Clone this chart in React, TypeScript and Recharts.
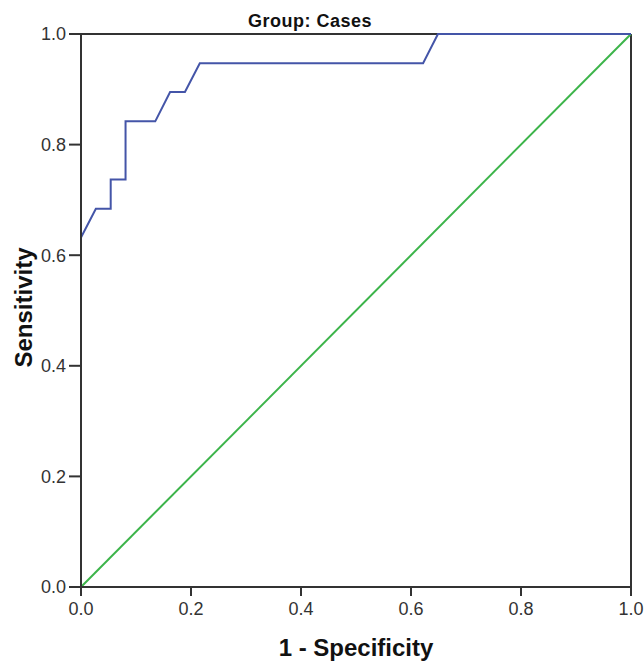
import React from "react";
import { LineChart, Line, XAxis, YAxis, ReferenceLine, Label } from "recharts";

const rocFpr = [0, 0, 0.027, 0.054, 0.054, 0.081, 0.081, 0.135, 0.162, 0.189, 0.216, 0.622, 0.649, 1.0];
const rocTpr = [0, 0.632, 0.684, 0.684, 0.737, 0.737, 0.842, 0.842, 0.895, 0.895, 0.947, 0.947, 1.0, 1.0];
const refX = [0, 1];
const refY = [0, 1];
const ticks = [0, 0.2, 0.4, 0.6, 0.8, 1.0];

const rocData = rocFpr.map((x, i) => ({ x, y: rocTpr[i] }));
const refData = refX.map((x, i) => ({ x, y: refY[i] }));

const AXIS = "#333";
const FONT = "Liberation Sans, Arial, sans-serif";

export default function App() {
  return (
    <div style={{ position: "absolute", left: 0, top: 0, background: "#fff" }}>
      <LineChart width={644} height={662} margin={{ top: 34, right: 13, left: 0, bottom: 0 }}>
        <XAxis
          type="number"
          dataKey="x"
          domain={[0, 1]}
          ticks={ticks}
          tickFormatter={(v: number) => v.toFixed(1)}
          height={75}
          axisLine={{ stroke: AXIS, strokeWidth: 2 }}
          tickLine={{ stroke: AXIS, strokeWidth: 2 }}
          tickSize={9}
          tickMargin={6}
          tick={{ fill: "#333", fontSize: 18, fontFamily: FONT }}
          allowDuplicatedCategory={false}
        >
          <Label
            content={(props: any) => {
              const vb = props.viewBox;
              return (
                <text x={vb.x + vb.width / 2} y={656} textAnchor="middle" fontSize={24} fontWeight="bold" fontFamily={FONT} fill="#111">
                  1 - Specificity
                </text>
              );
            }}
          />
        </XAxis>
        <YAxis
          type="number"
          domain={[0, 1]}
          ticks={ticks}
          tickFormatter={(v: number) => v.toFixed(1)}
          width={81}
          axisLine={{ stroke: AXIS, strokeWidth: 2 }}
          tickLine={{ stroke: AXIS, strokeWidth: 2 }}
          tickSize={12}
          tickMargin={3}
          tick={{ fill: "#333", fontSize: 18, fontFamily: FONT }}
        >
          <Label
            content={(props: any) => {
              const vb = props.viewBox;
              const cy = vb.y + vb.height / 2 - 3;
              return (
                <text x={32} y={cy} transform={`rotate(-90 32 ${cy})`} textAnchor="middle" fontSize={24} fontWeight="bold" fontFamily={FONT} fill="#111">
                  Sensitivity
                </text>
              );
            }}
          />
        </YAxis>
        <ReferenceLine y={1} stroke={AXIS} strokeWidth={2}>
          <Label
            content={(props: any) => {
              const vb = props.viewBox;
              return (
                <text x={310} y={vb.y - 7} textAnchor="middle" fontSize={18} letterSpacing={0.5} fontWeight="bold" fontFamily={FONT} fill="#111">
                  Group: Cases
                </text>
              );
            }}
          />
        </ReferenceLine>
        <ReferenceLine x={1} stroke={AXIS} strokeWidth={2} />
        <Line data={refData} dataKey="y" type="linear" stroke="#3cb44a" strokeWidth={2} dot={false} isAnimationActive={false} />
        <Line data={rocData} dataKey="y" type="linear" stroke="#4455a8" strokeWidth={2} dot={false} isAnimationActive={false} />
      </LineChart>
    </div>
  );
}
